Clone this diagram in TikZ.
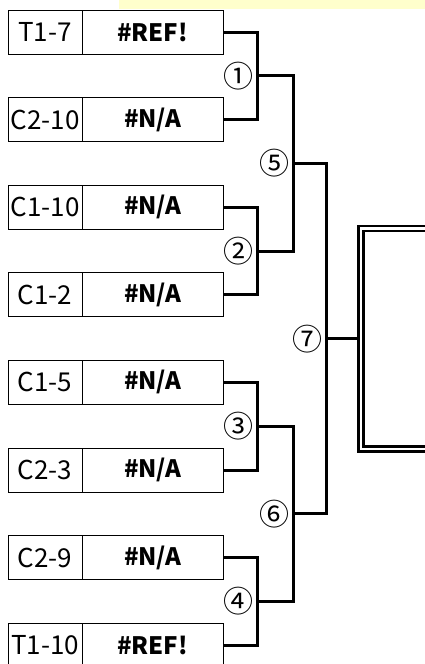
\documentclass[tikz,border=0pt]{standalone}
\usepackage{fontspec}
\setmainfont{Noto Sans CJK KR}
\usepackage{xcolor}
\usetikzlibrary{positioning,calc}
\definecolor{memo}{HTML}{FFFFCC}

\begin{document}
\begin{tikzpicture}[
        x=1pt, y=-1pt,
        node distance=43.6pt and 0pt,
        seed/.style={rectangle,draw,line width=0.9pt,outer sep=0pt,inner sep=0pt,minimum width=74pt,minimum height=44pt,font=\fontsize{26}{26}\selectfont},
        result/.style={rectangle,draw,line width=0.9pt,outer sep=0pt,inner sep=0pt,minimum width=141pt,minimum height=44pt,font=\fontsize{24}{24}\selectfont\bfseries},
        matchno/.style={inner sep=0pt,font=\fontsize{30}{30}\selectfont},
        bracket/.style={line width=3pt},
        winner/.style={rectangle,draw,double,line width=2.7pt,double distance=2.3pt,outer sep=3.8pt,minimum width=200pt,minimum height=220.5pt}
    ]
        \useasboundingbox (0,0) rectangle (425,664);
        \clip (0,0) rectangle (425,664);
        \fill[memo] (119,0) rectangle (425,9);

        % seeds
        \node[seed, anchor=north west] (s1) at (8,10) {T1-7};
        \node[seed, below=of s1] (s2) {C2-10};
        \node[seed, below=of s2] (s3) {C1-10};
        \node[seed, below=of s3] (s4) {C1-2};
        \node[seed, below=of s4] (s5) {C1-5};
        \node[seed, below=of s5] (s6) {C2-3};
        \node[seed, below=of s6] (s7) {C2-9};
        \node[seed, below=of s7] (s8) {T1-10};

        \node[result, right=of s1] (r1) {\#REF!};
        \node[result, right=of s2] (r2) {\#N/A};
        \node[result, right=of s3] (r3) {\#N/A};
        \node[result, right=of s4] (r4) {\#N/A};
        \node[result, right=of s5] (r5) {\#N/A};
        \node[result, right=of s6] (r6) {\#N/A};
        \node[result, right=of s7] (r7) {\#N/A};
        \node[result, right=of s8] (r8) {\#REF!};

        % first round
        \coordinate (m1) at ($(r1.east)!0.5!(r2.east)+(34,0)$);
        \coordinate (m2) at ($(r3.east)!0.5!(r4.east)+(34,0)$);
        \coordinate (m3) at ($(r5.east)!0.5!(r6.east)+(34,0)$);
        \coordinate (m4) at ($(r7.east)!0.5!(r8.east)+(34,0)$);
        \draw[bracket] (r1.east) -- ++(34,0) |- (r2.east);
        \draw[bracket] (r3.east) -- ++(34,0) |- (r4.east);
        \draw[bracket] (r5.east) -- ++(34,0) |- (r6.east);
        \draw[bracket] (r7.east) -- ++(34,0) |- (r8.east);
        \node[matchno, left=3pt of m1] (no1) {①};
        \node[matchno, left=3pt of m2] (no2) {②};
        \node[matchno, left=3pt of m3] (no3) {③};
        \node[matchno, left=3pt of m4] (no4) {④};

        % second round
        \coordinate (m5) at ($(m1)!0.5!(m2)+(36,0)$);
        \coordinate (m6) at ($(m3)!0.5!(m4)+(36,0)$);
        \draw[bracket] (m1) -- ++(36,0) |- (m2);
        \draw[bracket] (m3) -- ++(36,0) |- (m4);
        \node[matchno, left=3pt of m5] (no5) {⑤};
        \node[matchno, left=3pt of m6] (no6) {⑥};

        % final
        \coordinate (m7) at ($(m5)!0.5!(m6)+(33,0)$);
        \draw[bracket] (m5) -- ++(33,0) |- (m6);
        \node[matchno, left=3pt of m7] (no7) {⑦};
        \node[winner, anchor=west] (champ) at ($(m7)+(31.5,0)$) {};
        \draw[bracket] (m7) -- (champ.west);
    \end{tikzpicture}
\end{document}
